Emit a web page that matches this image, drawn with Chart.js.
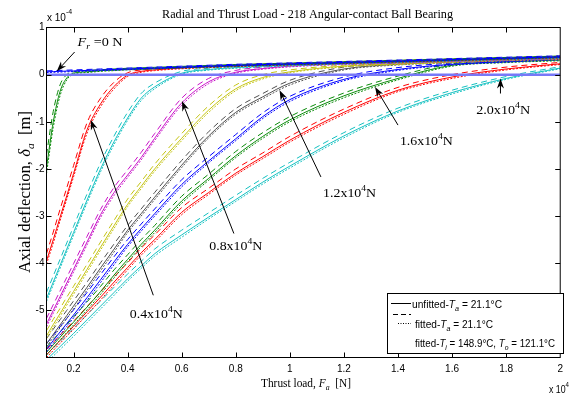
<!DOCTYPE html>
<html>
<head>
<meta charset="utf-8">
<script src="https://cdn.jsdelivr.net/npm/chart.js@4.4.1/dist/chart.umd.min.js"></script>
<style>
  html, body { margin: 0; padding: 0; background: #fff; }
</style>
</head>
<body>
<canvas id="myChart" width="569" height="400"></canvas>
<script>
// thrust load F_a, x 10^4 N
const thrustLoad = [0.1, 0.125, 0.15, 0.175, 0.2, 0.25, 0.3, 0.35, 0.4, 0.45, 0.5, 0.6, 0.7, 0.8, 0.9, 1.0, 1.2, 1.4, 1.6, 1.8, 2.0];
const xTicks = [0.2, 0.4, 0.6, 0.8, 1, 1.2, 1.4, 1.6, 1.8, 2];
const yTicks = [1, 0, -1, -2, -3, -4, -5];
const zeroLineX = [0.1, 2.0];
const zeroLineY = [0, 0];

// axial deflection, x 10^-4 m  (unfitted Ta / fitted Ta / fitted Ti,To)
const fr00Unfit = [0.06,0.065,0.07,0.075,0.08,0.09,0.10,0.11,0.12,0.13,0.14,0.16,0.18,0.20,0.215,0.23,0.26,0.29,0.32,0.35,0.38];
const fr00Fit   = [0.08,0.085,0.09,0.095,0.10,0.11,0.12,0.13,0.14,0.15,0.16,0.18,0.20,0.22,0.235,0.25,0.28,0.31,0.34,0.37,0.40];
const fr00Hot   = [0.045,0.05,0.055,0.06,0.065,0.075,0.085,0.095,0.105,0.115,0.125,0.145,0.165,0.185,0.2,0.215,0.245,0.275,0.305,0.335,0.365];

const fr02Unfit = [-1.97,-1.0,-0.36,-0.07,0.03,0.06,0.085,0.1,0.115,0.125,0.135,0.155,0.175,0.195,0.21,0.225,0.255,0.285,0.315,0.345,0.375];
const fr02Fit   = [-1.7,-0.78,-0.22,0.0,0.06,0.085,0.105,0.12,0.135,0.145,0.155,0.175,0.195,0.215,0.23,0.245,0.275,0.305,0.335,0.365,0.395];
const fr02Hot   = [-2.1,-1.12,-0.45,-0.11,0.01,0.045,0.07,0.085,0.1,0.11,0.12,0.14,0.16,0.18,0.195,0.21,0.24,0.27,0.3,0.33,0.36];

const fr04Unfit = [-3.95,-3.5,-3.03,-2.57,-2.1,-1.17,-0.62,-0.25,-0.01,0.07,0.1,0.14,0.165,0.185,0.205,0.22,0.25,0.28,0.31,0.34,0.37];
const fr04Fit   = [-3.8,-3.34,-2.86,-2.4,-1.93,-1.02,-0.5,-0.16,0.04,0.1,0.125,0.16,0.185,0.205,0.225,0.24,0.27,0.3,0.33,0.36,0.39];
const fr04Hot   = [-4.02,-3.57,-3.1,-2.64,-2.17,-1.24,-0.68,-0.3,-0.04,0.05,0.085,0.125,0.15,0.17,0.19,0.205,0.235,0.265,0.295,0.325,0.355];

const fr06Unfit = [-4.75,-4.4,-4.05,-3.7,-3.35,-2.66,-2.0,-1.42,-0.92,-0.5,-0.26,0.03,0.11,0.15,0.18,0.2,0.24,0.27,0.3,0.33,0.36];
const fr06Fit   = [-4.62,-4.27,-3.92,-3.57,-3.22,-2.53,-1.87,-1.3,-0.8,-0.4,-0.18,0.07,0.135,0.17,0.2,0.22,0.26,0.29,0.32,0.35,0.38];
const fr06Hot   = [-4.81,-4.46,-4.11,-3.76,-3.41,-2.72,-2.06,-1.48,-0.97,-0.55,-0.3,0.01,0.095,0.135,0.165,0.185,0.225,0.255,0.285,0.315,0.345];

const fr08Unfit = [-5.29,-5.0,-4.71,-4.42,-4.13,-3.55,-2.97,-2.5,-2.13,-1.76,-1.35,-0.6,-0.15,0.05,0.13,0.18,0.23,0.26,0.29,0.32,0.35];
const fr08Fit   = [-5.17,-4.88,-4.59,-4.3,-4.01,-3.43,-2.86,-2.39,-2.02,-1.65,-1.25,-0.5,-0.08,0.09,0.16,0.2,0.25,0.28,0.31,0.34,0.37];
const fr08Hot   = [-5.35,-5.06,-4.77,-4.48,-4.19,-3.61,-3.03,-2.56,-2.18,-1.81,-1.4,-0.65,-0.19,0.03,0.115,0.165,0.215,0.245,0.275,0.305,0.335];

const fr10Unfit = [-5.54,-5.3,-5.07,-4.83,-4.6,-4.13,-3.66,-3.2,-2.75,-2.37,-2.0,-1.35,-0.75,-0.3,-0.06,0.06,0.18,0.23,0.27,0.31,0.34];
const fr10Fit   = [-5.43,-5.19,-4.96,-4.72,-4.49,-4.02,-3.55,-3.09,-2.64,-2.27,-1.9,-1.25,-0.66,-0.22,0.0,0.1,0.2,0.25,0.29,0.33,0.36];
const fr10Hot   = [-5.6,-5.36,-5.13,-4.89,-4.66,-4.19,-3.72,-3.26,-2.8,-2.42,-2.05,-1.4,-0.8,-0.34,-0.09,0.04,0.165,0.215,0.255,0.295,0.325];

const fr12Unfit = [-5.71,-5.51,-5.31,-5.11,-4.91,-4.51,-4.1,-3.7,-3.3,-2.95,-2.6,-1.92,-1.3,-0.8,-0.47,-0.18,0.12,0.22,0.27,0.31,0.34];
const fr12Fit   = [-5.6,-5.4,-5.2,-5.0,-4.8,-4.4,-3.99,-3.59,-3.2,-2.85,-2.5,-1.82,-1.21,-0.72,-0.4,-0.12,0.16,0.245,0.29,0.33,0.36];
const fr12Hot   = [-5.77,-5.57,-5.37,-5.17,-4.97,-4.57,-4.16,-3.76,-3.35,-3.0,-2.65,-1.97,-1.34,-0.84,-0.51,-0.22,0.1,0.205,0.255,0.295,0.325];

const fr14Unfit = [-5.82,-5.64,-5.46,-5.28,-5.1,-4.73,-4.35,-3.97,-3.6,-3.27,-2.95,-2.33,-1.83,-1.36,-0.89,-0.53,-0.1,0.11,0.22,0.28,0.33];
const fr14Fit   = [-5.71,-5.53,-5.35,-5.17,-4.99,-4.62,-4.24,-3.86,-3.5,-3.17,-2.85,-2.23,-1.74,-1.27,-0.81,-0.46,-0.05,0.15,0.245,0.3,0.35];
const fr14Hot   = [-5.88,-5.7,-5.52,-5.34,-5.16,-4.79,-4.41,-4.03,-3.65,-3.32,-3.0,-2.38,-1.87,-1.4,-0.93,-0.57,-0.13,0.09,0.205,0.265,0.315];

const fr16Unfit = [-5.89,-5.73,-5.57,-5.41,-5.25,-4.93,-4.6,-4.25,-3.92,-3.6,-3.3,-2.68,-2.2,-1.72,-1.31,-0.96,-0.45,-0.08,0.2,0.27,0.31];
const fr16Fit   = [-5.78,-5.62,-5.46,-5.3,-5.14,-4.82,-4.49,-4.14,-3.82,-3.5,-3.2,-2.58,-2.11,-1.63,-1.23,-0.89,-0.39,-0.03,0.23,0.295,0.33];
const fr16Hot   = [-5.95,-5.79,-5.63,-5.47,-5.31,-4.99,-4.66,-4.31,-3.97,-3.65,-3.35,-2.73,-2.24,-1.76,-1.35,-1.0,-0.49,-0.11,0.18,0.255,0.295];

const fr18Unfit = [-5.94,-5.79,-5.64,-5.49,-5.34,-5.03,-4.72,-4.4,-4.09,-3.78,-3.5,-2.92,-2.5,-2.09,-1.74,-1.39,-0.8,-0.33,-0.05,0.12,0.23];
const fr18Fit   = [-5.83,-5.68,-5.53,-5.38,-5.23,-4.92,-4.61,-4.29,-3.99,-3.68,-3.4,-2.82,-2.41,-2.0,-1.66,-1.31,-0.73,-0.27,0.0,0.16,0.26];
const fr18Hot   = [-6.0,-5.85,-5.7,-5.55,-5.4,-5.09,-4.78,-4.46,-4.14,-3.83,-3.55,-2.97,-2.54,-2.13,-1.78,-1.43,-0.84,-0.36,-0.08,0.1,0.215];

const fr20Unfit = [-6.05,-5.91,-5.77,-5.63,-5.49,-5.2,-4.91,-4.62,-4.33,-4.06,-3.8,-3.4,-3.02,-2.65,-2.28,-1.94,-1.3,-0.77,-0.38,-0.08,0.14];
const fr20Fit   = [-5.94,-5.8,-5.66,-5.52,-5.38,-5.09,-4.8,-4.51,-4.23,-3.96,-3.7,-3.3,-2.93,-2.56,-2.2,-1.86,-1.23,-0.71,-0.33,-0.04,0.17];
const fr20Hot   = [-6.11,-5.97,-5.83,-5.69,-5.55,-5.26,-4.97,-4.68,-4.38,-4.11,-3.85,-3.45,-3.06,-2.69,-2.32,-1.98,-1.34,-0.8,-0.41,-0.1,0.125];

// MATLAB colour order b g r c m y k b g r c
const curves = [
    { color: '#0000ff', unfit: fr00Unfit, fit: fr00Fit, hot: fr00Hot },
    { color: '#0a8a0a', unfit: fr02Unfit, fit: fr02Fit, hot: fr02Hot },
    { color: '#ff0000', unfit: fr04Unfit, fit: fr04Fit, hot: fr04Hot },
    { color: '#14c0c0', unfit: fr06Unfit, fit: fr06Fit, hot: fr06Hot },
    { color: '#c814c8', unfit: fr08Unfit, fit: fr08Fit, hot: fr08Hot },
    { color: '#c4c414', unfit: fr10Unfit, fit: fr10Fit, hot: fr10Hot },
    { color: '#505050', unfit: fr12Unfit, fit: fr12Fit, hot: fr12Hot },
    { color: '#0000ff', unfit: fr14Unfit, fit: fr14Fit, hot: fr14Hot },
    { color: '#0a8a0a', unfit: fr16Unfit, fit: fr16Fit, hot: fr16Hot },
    { color: '#ff0000', unfit: fr18Unfit, fit: fr18Fit, hot: fr18Hot },
    { color: '#14c0c0', unfit: fr20Unfit, fit: fr20Fit, hot: fr20Hot }
];

const SERIF = '"Liberation Serif", "Times New Roman", serif';
const SANS = '"Liberation Sans", Arial, sans-serif';

function toPoints(xs, ys) {
    return xs.map((x, i) => ({ x: x, y: ys[i] }));
}

function lineSet(points, color, dash, width) {
    return {
        data: points,
        borderColor: color,
        borderWidth: width,
        borderDash: dash,
        pointRadius: 0,
        fill: false,
        cubicInterpolationMode: 'monotone',
        clip: 0
    };
}

const datasets = [];
// zero reference line drawn on top
datasets.push(lineSet(toPoints(zeroLineX, zeroLineY), '#7878f8', [], 2.5));
curves.forEach(c => {
    datasets.push(lineSet(toPoints(thrustLoad, c.unfit), c.color, [], 1));
    datasets.push(lineSet(toPoints(thrustLoad, c.fit), c.color, [6, 4], 1));
    datasets.push(lineSet(toPoints(thrustLoad, c.hot), c.color, [2, 1.5], 1));
});

// text helpers: parts = [{text, font, dy}]
function richWidth(ctx, parts) {
    let w = 0;
    parts.forEach(p => {
        ctx.font = p.font;
        w += ctx.measureText(p.text).width;
    });
    return w;
}

function drawRich(ctx, parts, x, y, align, targetWidth) {
    const w = richWidth(ctx, parts);
    const s = targetWidth ? targetWidth / w : 1;
    ctx.save();
    ctx.translate(x, y);
    ctx.scale(s, 1);
    let cx = align === 'center' ? -w / 2 : (align === 'right' ? -w : 0);
    ctx.textAlign = 'left';
    ctx.textBaseline = 'alphabetic';
    ctx.fillStyle = '#000';
    parts.forEach(p => {
        ctx.font = p.font;
        ctx.fillText(p.text, cx, p.dy || 0);
        cx += ctx.measureText(p.text).width;
    });
    ctx.restore();
}

function loadLabel(v) {
    return [
        { text: v + 'x10', font: '13px ' + SERIF },
        { text: '4', font: '9px ' + SERIF, dy: -6 },
        { text: 'N', font: '13px ' + SERIF }
    ];
}

function drawArrow(ctx, x1, y1, x2, y2) {
    const ang = Math.atan2(y2 - y1, x2 - x1);
    const len = 10, half = 3.5;
    ctx.beginPath();
    ctx.moveTo(x1, y1);
    ctx.lineTo(x2 - Math.cos(ang) * 6, y2 - Math.sin(ang) * 6);
    ctx.stroke();
    const bx = x2 - Math.cos(ang) * len, by = y2 - Math.sin(ang) * len;
    const nx = x2 - Math.cos(ang) * len * 0.7, ny = y2 - Math.sin(ang) * len * 0.7;
    ctx.beginPath();
    ctx.moveTo(x2, y2);
    ctx.lineTo(bx + Math.sin(ang) * half, by - Math.cos(ang) * half);
    ctx.lineTo(nx, ny);
    ctx.lineTo(bx - Math.sin(ang) * half, by + Math.cos(ang) * half);
    ctx.closePath();
    ctx.fill();
}

// annotation placement in data units (tail, tip, text anchor)
const annotations = [
    { parts: [
        { text: 'F', font: 'italic 13px ' + SERIF },
        { text: 'r', font: 'italic 9px ' + SERIF, dy: 3 },
        { text: ' =0 N', font: '13px ' + SERIF }
      ], tx: 0.215, ty: 0.6, align: 'left', w: 45, tail: [0.204, 0.48], tip: [0.138, 0.07] },
    { parts: loadLabel('0.4'), tx: 0.506, ty: -5.16, align: 'center', w: 53, tail: [0.495, -4.68], tip: [0.264, -0.96] },
    { parts: loadLabel('0.8'), tx: 0.8, ty: -3.72, align: 'center', w: 53, tail: [0.793, -3.37], tip: [0.601, -0.56] },
    { parts: loadLabel('1.2'), tx: 1.221, ty: -2.6, align: 'center', w: 53, tail: [1.115, -2.17], tip: [0.962, -0.33] },
    { parts: loadLabel('1.6'), tx: 1.505, ty: -1.49, align: 'center', w: 53, tail: [1.40, -1.07], tip: [1.315, -0.26] },
    { parts: loadLabel('2.0'), tx: 1.789, ty: -0.84, align: 'center', w: 54, tail: [1.779, -0.40], tip: [1.779, -0.08] }
];

const decorPlugin = {
    id: 'decor',
    afterDatasetsDraw(chart) {
        const ctx = chart.ctx;
        const a = chart.chartArea;
        const sx = chart.scales.x, sy = chart.scales.y;
        ctx.save();
        ctx.strokeStyle = '#000';
        ctx.fillStyle = '#000';
        ctx.lineWidth = 1;

        // axis box
        ctx.strokeRect(a.left, a.top, a.right - a.left, a.bottom - a.top);

        // ticks pointing inwards on all four sides
        ctx.beginPath();
        xTicks.forEach(v => {
            const px = Math.round(sx.getPixelForValue(v)) + 0.5;
            if (px > a.right - 2) return;
            ctx.moveTo(px, a.bottom); ctx.lineTo(px, a.bottom - 5);
            ctx.moveTo(px, a.top); ctx.lineTo(px, a.top + 5);
        });
        yTicks.forEach(v => {
            const py = Math.round(sy.getPixelForValue(v)) + 0.5;
            if (py < a.top + 2) return;
            ctx.moveTo(a.left, py); ctx.lineTo(a.left + 5, py);
            ctx.moveTo(a.right, py); ctx.lineTo(a.right - 5, py);
        });
        ctx.stroke();

        // arrows and load labels
        annotations.forEach(an => {
            drawArrow(ctx,
                sx.getPixelForValue(an.tail[0]), sy.getPixelForValue(an.tail[1]),
                sx.getPixelForValue(an.tip[0]), sy.getPixelForValue(an.tip[1]));
            drawRich(ctx, an.parts, sx.getPixelForValue(an.tx), sy.getPixelForValue(an.ty), an.align, an.w);
        });

        // legend box
        const lx = 387.5, ly = 293.5, lw = 176, lh = 60;
        ctx.fillStyle = '#fff';
        ctx.fillRect(lx, ly, lw, lh);
        ctx.strokeRect(lx, ly, lw, lh);
        ctx.strokeStyle = '#000';
        ctx.beginPath(); ctx.moveTo(391, 303.5); ctx.lineTo(411, 303.5); ctx.stroke();
        ctx.setLineDash([5, 3]);
        ctx.beginPath(); ctx.moveTo(393, 314.5); ctx.lineTo(411, 314.5); ctx.stroke();
        ctx.setLineDash([1, 1.5]);
        ctx.beginPath(); ctx.moveTo(398, 323.5); ctx.lineTo(411, 323.5); ctx.stroke();
        ctx.setLineDash([]);

        const f = '10px ' + SANS, fi = 'italic 10px ' + SANS, fs = 'italic 7px ' + SANS;
        drawRich(ctx, [
            { text: 'unfitted-', font: f }, { text: 'T', font: fi }, { text: 'a', font: fs, dy: 3 },
            { text: ' = 21.1\u00b0C', font: f }
        ], 412, 308, 'left', 90);
        drawRich(ctx, [
            { text: 'fitted-', font: f }, { text: 'T', font: fi }, { text: 'a', font: fs, dy: 3 },
            { text: ' = 21.1\u00b0C', font: f }
        ], 415, 328, 'left', 78);
        drawRich(ctx, [
            { text: 'fitted-', font: f }, { text: 'T', font: fi }, { text: 'i', font: fs, dy: 3 },
            { text: ' = 148.9\u00b0C, ', font: f }, { text: 'T', font: fi }, { text: 'o', font: fs, dy: 3 },
            { text: ' = 121.1\u00b0C', font: f }
        ], 415, 347, 'left', 140);
        ctx.restore();
    },
    afterDraw(chart) {
        const ctx = chart.ctx;
        ctx.save();
        // title
        drawRich(ctx, [{ text: 'Radial and Thrust Load - 218 Angular-contact Ball Bearing', font: '12px ' + SERIF }],
            307.5, 18, 'center', 291);
        // x label
        drawRich(ctx, [
            { text: 'Thrust load, ', font: '13px ' + SERIF },
            { text: 'F', font: 'italic 13px ' + SERIF },
            { text: 'a', font: 'italic 9px ' + SERIF, dy: 3 },
            { text: '  [N]', font: '13px ' + SERIF }
        ], 306, 387, 'center', 90);
        // y label
        ctx.save();
        ctx.translate(30, 192);
        ctx.rotate(-Math.PI / 2);
        drawRich(ctx, [
            { text: 'Axial deflection, ', font: '16px ' + SERIF },
            { text: '\u03b4', font: 'italic 16px ' + SERIF },
            { text: 'a', font: 'italic 11px ' + SERIF, dy: 4 },
            { text: '  [m]', font: '16px ' + SERIF }
        ], 0, 0, 'center', 162);
        ctx.restore();
        // exponent markers
        drawRich(ctx, [
            { text: 'x 10', font: '10px ' + SANS },
            { text: '-4', font: '7px ' + SANS, dy: -7 }
        ], 47, 20.5, 'left');
        drawRich(ctx, [
            { text: 'x 10', font: '10px ' + SANS },
            { text: '4', font: '7px ' + SANS, dy: -6 }
        ], 549, 393, 'left', 20);
        ctx.restore();
    }
};

const ctx = document.getElementById('myChart').getContext('2d');
const myChart = new Chart(ctx, {
    type: 'line',
    data: { datasets: datasets },
    options: {
        responsive: false,
        animation: false,
        devicePixelRatio: 1,
        layout: { padding: { top: 27.5, right: 2, left: 0, bottom: 0 } },
        scales: {
            x: {
                type: 'linear',
                min: 0.1,
                max: 2.0,
                afterBuildTicks: scale => { scale.ticks = xTicks.map(v => ({ value: v })); },
                afterFit: scale => { scale.height = 42.5; },
                grid: { display: false, drawTicks: false },
                border: { display: false },
                ticks: {
                    autoSkip: false,
                    maxRotation: 0,
                    padding: 6,
                    color: '#000',
                    font: { family: SANS, size: 10 },
                    callback: v => String(v)
                }
            },
            y: {
                type: 'linear',
                min: -6,
                max: 1,
                afterBuildTicks: scale => { scale.ticks = yTicks.map(v => ({ value: v })); },
                afterFit: scale => { scale.width = 46.5; },
                grid: { display: false, drawTicks: false },
                border: { display: false },
                ticks: {
                    autoSkip: false,
                    padding: 2,
                    color: '#000',
                    font: { family: SANS, size: 10 },
                    callback: v => String(v)
                }
            }
        },
        plugins: {
            legend: { display: false },
            tooltip: { enabled: false }
        }
    },
    plugins: [decorPlugin]
});
</script>
</body>
</html>
